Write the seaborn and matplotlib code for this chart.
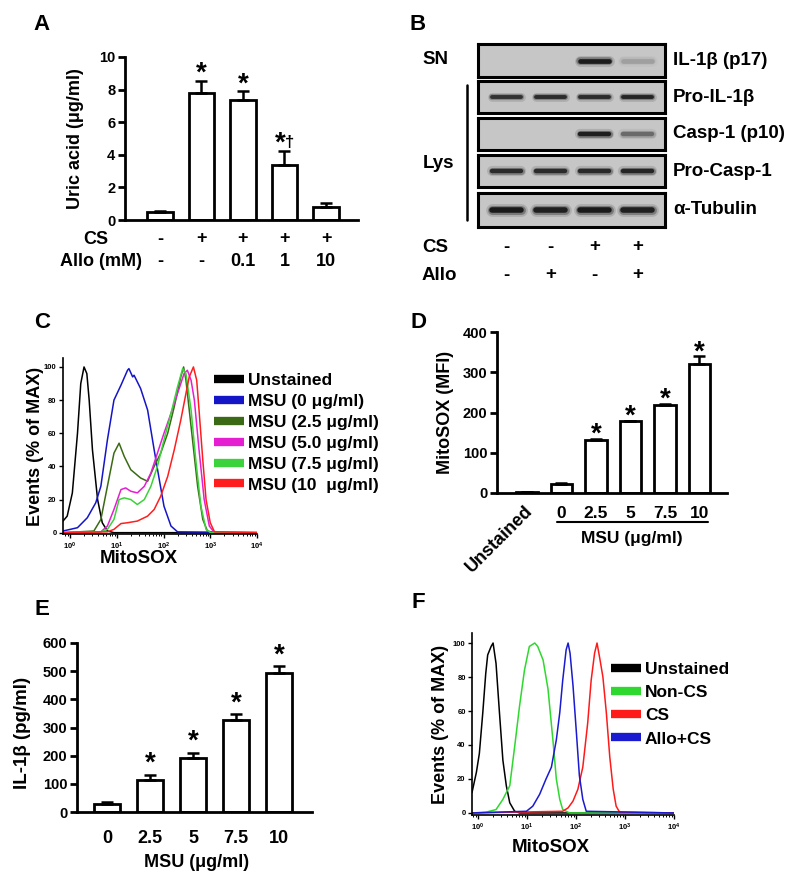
import numpy as np
import pandas as pd
import matplotlib
matplotlib.use("Agg")
import matplotlib.pyplot as plt
import seaborn as sns
from matplotlib.lines import Line2D
from matplotlib.transforms import blended_transform_factory as blend

# ---------------- data ----------------
# Panel A: uric acid
a_groups = ["Ctrl", "CS", "CS+Allo 0.1", "CS+Allo 1", "CS+Allo 10"]
a_cs = ["-", "+", "+", "+", "+"]
a_allo = ["-", "-", "0.1", "1", "10"]
a_uric = [0.47, 7.8, 7.35, 3.35, 0.82]
a_sem = [0.1, 0.75, 0.55, 0.9, 0.2]
a_marks = ["", "*", "*", "*†", ""]

# Panel B: western blot band densities (0..1) per lane
b_proteins = ["IL-1β (p17)", "Pro-IL-1β", "Casp-1 (p10)", "Pro-Casp-1", "α-Tubulin"]
b_cs = ["-", "-", "+", "+"]
b_allo = ["-", "+", "-", "+"]
b_il1b_p17 = [0.0, 0.0, 0.92, 0.15]
b_pro_il1b = [0.75, 0.8, 0.8, 0.85]
b_casp1_p10 = [0.0, 0.0, 0.9, 0.4]
b_pro_casp1 = [0.8, 0.8, 0.82, 0.85]
b_tubulin = [0.95, 0.9, 0.95, 0.9]

# Panel C: MitoSOX histograms (x as log10 MitoSOX, y as % of max)
c_names = ["Unstained", "MSU (0 μg/ml)", "MSU (2.5 μg/ml)", "MSU (5.0 μg/ml)",
           "MSU (7.5 μg/ml)", "MSU (10  μg/ml)"]
c_unstained_x = [-0.15, -0.06, 0.05, 0.16, 0.23, 0.30, 0.36, 0.41, 0.48, 0.59, 0.69, 0.80, 0.94, 4.0]
c_unstained_y = [7, 10, 24, 60, 90, 100, 96, 80, 50, 20, 6, 1, 0, 0]
c_msu0_x = [-0.15, 0.16, 0.37, 0.55, 0.66, 0.80, 0.94, 1.09, 1.23, 1.26, 1.34, 1.37, 1.51, 1.66, 1.80, 1.91, 2.01, 2.16, 2.30, 4.0]
c_msu0_y = [1, 3, 9, 18, 28, 56, 80, 89, 98, 99, 94, 95, 87, 74, 50, 32, 16, 4, 0.5, 0]
c_msu25_x = [-0.15, 0.51, 0.66, 0.80, 0.94, 1.05, 1.16, 1.30, 1.51, 1.66, 1.80, 1.94, 2.09, 2.23, 2.37, 2.43, 2.48, 2.59, 2.73, 2.84, 2.94, 3.09, 4.0]
c_msu25_y = [0, 1, 8, 28, 48, 54, 46, 38, 33, 31, 40, 48, 60, 76, 94, 100, 92, 64, 28, 8, 1, 0, 0]
c_msu50_x = [-0.15, 0.66, 0.80, 0.94, 1.09, 1.19, 1.30, 1.44, 1.59, 1.73, 1.87, 2.01, 2.16, 2.30, 2.44, 2.51, 2.59, 2.66, 2.76, 2.87, 2.98, 3.09, 4.0]
c_msu50_y = [0, 0.5, 4, 14, 26, 27, 25, 24, 28, 36, 48, 60, 72, 84, 96, 98, 92, 80, 50, 20, 4, 0, 0]
c_msu75_x = [-0.15, 0.66, 0.80, 0.94, 1.05, 1.16, 1.30, 1.44, 1.59, 1.73, 1.87, 2.01, 2.16, 2.30, 2.41, 2.48, 2.59, 2.69, 2.80, 2.91, 3.01, 4.0]
c_msu75_y = [0, 0.5, 2, 8, 20, 21, 20, 17, 20, 28, 40, 56, 72, 88, 99, 96, 74, 44, 16, 2, 0, 0]
c_msu10_x = [-0.15, 0.80, 0.94, 1.09, 1.23, 1.44, 1.66, 1.80, 1.94, 2.09, 2.23, 2.37, 2.48, 2.55, 2.64, 2.71, 2.76, 2.84, 2.91, 3.00, 3.09, 4.0]
c_msu10_y = [0, 0.5, 2, 5.5, 6, 7, 10, 14, 22, 34, 50, 68, 84, 94, 100, 92, 74, 44, 20, 6, 0.5, 0]
c_colors = ["#000000", "#1515c8", "#3a6b14", "#e61ed2", "#3cd23c", "#ff1e1e"]

# Panel D: MitoSOX MFI
d_groups = ["Unstained", "0", "2.5", "5", "7.5", "10"]
d_mfi = [2.5, 23, 132, 178, 219, 320]
d_sem = [0.5, 1, 3, 2, 2.5, 20]
d_marks = ["", "", "*", "*", "*", "*"]

# Panel E: IL-1beta
e_doses = ["0", "2.5", "5", "7.5", "10"]
e_il1b = [30, 113, 190, 327, 493]
e_sem = [4, 20, 21, 21, 25]
e_marks = ["", "*", "*", "*", "*"]

# Panel F: MitoSOX histograms
f_names = ["Unstained", "Non-CS", "CS", "Allo+CS"]
f_unstained_x = [-0.12, -0.03, 0.03, 0.10, 0.16, 0.20, 0.27, 0.31, 0.37, 0.44, 0.51, 0.58, 0.65, 0.75, 0.85, 4.0]
f_unstained_y = [12, 24, 35, 59, 82, 93, 98, 100, 88, 59, 31, 16, 6, 1, 0, 0]
f_noncs_x = [-0.12, 0.17, 0.37, 0.51, 0.65, 0.75, 0.85, 0.95, 1.05, 1.16, 1.22, 1.33, 1.43, 1.53, 1.60, 1.67, 1.73, 1.87, 4.0]
f_noncs_y = [0, 0.5, 2, 8, 16, 39, 63, 84, 98, 100, 98, 90, 73, 43, 20, 8, 2, 0, 0]
f_cs_x = [-0.12, 1.73, 1.84, 1.94, 2.04, 2.14, 2.24, 2.31, 2.38, 2.43, 2.48, 2.55, 2.62, 2.69, 2.76, 2.82, 2.89, 4.0]
f_cs_y = [0, 1, 3, 7, 14, 27, 53, 78, 94, 100, 92, 80, 59, 33, 14, 4, 0.5, 0]
f_allo_x = [-0.12, 0.99, 1.12, 1.26, 1.39, 1.50, 1.60, 1.67, 1.73, 1.80, 1.84, 1.88, 1.94, 2.01, 2.07, 2.14, 2.21, 4.0]
f_allo_y = [0, 1, 4, 11, 20, 27, 43, 59, 78, 96, 100, 94, 75, 47, 22, 8, 1, 0]
f_colors = ["#000000", "#2ed82e", "#ff1a1a", "#1a1ad0"]

# ---------------- style ----------------
sns.set_style("ticks", {"axes.edgecolor": "black", "text.color": "black",
                        "xtick.color": "black", "ytick.color": "black",
                        "axes.labelcolor": "black"})
plt.rcParams["font.family"] = ["Liberation Sans", "DejaVu Sans"]
plt.rcParams["font.weight"] = "bold"
plt.rcParams["axes.labelweight"] = "bold"
plt.rcParams["mathtext.fontset"] = "custom"
plt.rcParams["mathtext.rm"] = "Liberation Sans:bold"
plt.rcParams["mathtext.it"] = "Liberation Sans:bold"
plt.rcParams["mathtext.bf"] = "Liberation Sans:bold"
plt.rcParams["mathtext.default"] = "regular"

W, H = 800, 883
fig = plt.figure(figsize=(W / 100, H / 100), dpi=100)


def rect(l, t, r, b):
    return [l / W, 1 - b / H, (r - l) / W, (b - t) / H]


def fx(x):
    return x / W


def fy(y):
    return 1 - y / H


def panel_letter(x, y, s):
    fig.text(fx(x), fy(y), s, ha="center", va="baseline", fontsize=16, fontweight="bold")


def bar_panel(ax, groups, vals, sems, width):
    sns.barplot(x=groups, y=vals, color="white", edgecolor="black", linewidth=2,
                width=width, saturation=1, errorbar=None, ax=ax)
    n = len(vals)
    ax.errorbar(np.arange(n), vals, yerr=[np.zeros(n), sems], fmt="none",
                ecolor="black", elinewidth=1.8, capsize=4.5, capthick=1.8, zorder=3)
    sns.despine(ax=ax)
    for s in ["left", "bottom"]:
        ax.spines[s].set_linewidth(2)
    ax.tick_params(axis="y", direction="out", length=5, width=2, labelsize=10.5, pad=2)
    ax.tick_params(axis="x", length=0)
    ax.set_xlabel("")


def add_marks(ax, vals, sems, marks, dy):
    for i, (v, s, m) in enumerate(zip(vals, sems, marks)):
        if not m:
            continue
        top = v + s
        if len(m) == 1:
            ax.annotate(m, (i, top), xytext=(0, dy), textcoords="offset points",
                        ha="center", va="baseline", fontsize=20, fontweight="bold")
        else:
            ax.annotate(m[0], (i, top), xytext=(-3, dy), textcoords="offset points",
                        ha="center", va="baseline", fontsize=20, fontweight="bold")
            ax.annotate(m[1], (i, top), xytext=(4, dy + 3), textcoords="offset points",
                        ha="center", va="baseline", fontsize=12, fontweight="bold")


# ---------------- Panel A ----------------
axA = fig.add_axes(rect(125, 57, 358, 220))
bar_panel(axA, a_groups, a_uric, a_sem, 0.62)
axA.set_ylim(0, 10)
axA.set_yticks(range(0, 11, 2))
axA.set_xlim(-0.84, 4.77)
axA.set_xticks([])
axA.set_ylabel("Uric acid (μg/ml)", fontsize=13)
axA.yaxis.set_label_coords(-0.176, 0.5)
add_marks(axA, a_uric, a_sem, a_marks, 0)
tA = blend(axA.transData, fig.transFigure)
fig.text(fx(83), fy(239), "CS", ha="left", va="center", fontsize=13)
fig.text(fx(60), fy(262), "Allo (mM)", ha="left", va="center", fontsize=13)
for i, (c, a) in enumerate(zip(a_cs, a_allo)):
    axA.text(i, fy(239), c, transform=tA, ha="center", va="center", fontsize=13)
    axA.text(i, fy(262), a, transform=tA, ha="center", va="center", fontsize=13)
panel_letter(42, 30, "A")

# ---------------- Panel B ----------------
blot_rows = [(44, 77), (81, 113), (118, 150), (155, 187), (193, 227)]
b_bands = [b_il1b_p17, b_pro_il1b, b_casp1_p10, b_pro_casp1, b_tubulin]
band_lw = [3.4, 2.8, 3.2, 3.2, 4.0]
lane_x = np.arange(len(b_cs))
blot_axes = []
for (t, b), prot, dens, lw in zip(blot_rows, b_proteins, b_bands, band_lw):
    ax = fig.add_axes(rect(478, t, 665, b))
    ax.set_facecolor("#c6c6c6")
    ax.set_xlim(-0.66, 3.62)
    ax.set_ylim(0, 1)
    ax.set_xticks([])
    ax.set_yticks([])
    for sp in ax.spines.values():
        sp.set_visible(True)
        sp.set_linewidth(2.2)
        sp.set_color("black")
    for x, d in zip(lane_x, dens):
        if d <= 0:
            continue
        for scale, al in [(2.3, 0.15), (1.6, 0.35), (1.0, 0.95)]:
            ax.plot([x - 0.33, x + 0.33], [0.5, 0.5], color="#101010", lw=lw * scale,
                    alpha=al * d, solid_capstyle="round")
    fig.text(fx(673), fy((t + b) / 2), prot, ha="left", va="center", fontsize=13.5)
    blot_axes.append(ax)

fig.text(fx(422), fy(60), "SN", ha="left", va="center", fontsize=13.5)
fig.text(fx(423), fy(163), "Lys", ha="left", va="center", fontsize=13.5)
fig.add_artist(Line2D([fx(467), fx(467)], [fy(85), fy(220)], color="black", lw=1.8,
                      transform=fig.transFigure))
fig.text(fx(422), fy(247), "CS", ha="left", va="center", fontsize=13.5)
fig.text(fx(422), fy(275), "Allo", ha="left", va="center", fontsize=13.5)
tB = blend(blot_axes[-1].transData, fig.transFigure)
for i, (c, a) in enumerate(zip(b_cs, b_allo)):
    blot_axes[-1].text(i, fy(247), c, transform=tB, ha="center", va="center", fontsize=13.5)
    blot_axes[-1].text(i, fy(275), a, transform=tB, ha="center", va="center", fontsize=13.5)
panel_letter(418, 30, "B")


# ---------------- histogram helper ----------------
def hist_panel(ax, names, xs, ys, colors, xlim_lo, ylim, legend_anchor, spacing):
    df = pd.concat([pd.DataFrame({"MitoSOX": np.power(10.0, np.array(lx)),
                                  "pct": y, "sample": n})
                    for n, lx, y in zip(names, xs, ys)], ignore_index=True)
    sns.lineplot(data=df, x="MitoSOX", y="pct", hue="sample", hue_order=names,
                 palette=dict(zip(names, colors)), sort=False, estimator=None,
                 lw=1.1, legend=False, ax=ax)
    ax.set_xscale("log")
    ax.set_xlim(10 ** xlim_lo, 10 ** 4)
    ax.set_ylim(*ylim)
    ax.set_yticks(range(0, 101, 20))
    sns.despine(ax=ax)
    for s in ["left", "bottom"]:
        ax.spines[s].set_linewidth(1.2)
    ax.tick_params(axis="both", which="major", length=3, width=1, labelsize=5.5, pad=1.5)
    ax.tick_params(axis="x", which="minor", length=1.5, width=0.7)
    ax.set_xlabel("MitoSOX", fontsize=13.5)
    ax.set_ylabel("Events (% of MAX)", fontsize=13)
    ax.xaxis.label.set_va("center")
    handles = [Line2D([0], [0], color=c, lw=6, solid_capstyle="butt") for c in colors]
    ax.legend(handles, names, loc="upper left", bbox_to_anchor=legend_anchor,
              bbox_transform=fig.transFigure, frameon=False, borderpad=0,
              borderaxespad=0, handlelength=1.75, handletextpad=0.2,
              labelspacing=spacing, prop={"size": 12.5, "weight": "bold"})


# ---------------- Panel C ----------------
axC = fig.add_axes(rect(63, 358, 257, 534))
hist_panel(axC, c_names,
           [c_unstained_x, c_msu0_x, c_msu25_x, c_msu50_x, c_msu75_x, c_msu10_x],
           [c_unstained_y, c_msu0_y, c_msu25_y, c_msu50_y, c_msu75_y, c_msu10_y],
           c_colors, -0.15, (-0.8, 105.4), (fx(214), fy(373)), 0.33)
axC.yaxis.set_label_coords(-0.098, 0.5)
axC.xaxis.set_label_coords(0.39, -0.14)
panel_letter(42, 328, "C")

# ---------------- Panel D ----------------
axD = fig.add_axes(rect(497, 332, 727, 493))
bar_panel(axD, d_groups, d_mfi, d_sem, 0.62)
axD.set_ylim(0, 400)
axD.set_yticks(range(0, 401, 100))
axD.set_xlim(-0.87, 5.8)
axD.set_xticks(range(len(d_groups)))
axD.set_xticklabels([""] + d_groups[1:])
axD.tick_params(axis="x", pad=9, labelsize=12.5)
axD.set_ylabel("MitoSOX (MFI)", fontsize=13)
axD.yaxis.set_label_coords(-0.187, 0.5)
add_marks(axD, d_mfi, d_sem, d_marks, -2.2)
tD = blend(axD.transData, fig.transFigure)
axD.text(0.1, fy(508), d_groups[0], transform=tD, rotation=45, ha="right", va="center",
         rotation_mode="anchor", fontsize=13)
axD.plot([0.87, 5.25], [fy(522), fy(522)], transform=tD, color="black", lw=1.5, clip_on=False)
axD.text(3.05, fy(538), "MSU (μg/ml)", transform=tD, ha="center", va="center", fontsize=12.5)
panel_letter(418, 328, "D")

# ---------------- Panel E ----------------
axE = fig.add_axes(rect(77, 643, 312, 812))
bar_panel(axE, e_doses, e_il1b, e_sem, 0.6)
axE.set_ylim(0, 600)
axE.set_yticks(range(0, 601, 100))
axE.set_xlim(-0.7, 4.77)
axE.tick_params(axis="x", pad=13, labelsize=13)
axE.set_xlabel("MSU (μg/ml)", fontsize=13)
axE.xaxis.set_label_coords(0.51, -0.3)
axE.xaxis.label.set_va("center")
axE.set_ylabel("IL-1β (pg/ml)", fontsize=13.5)
axE.yaxis.set_label_coords(-0.196, 0.47)
add_marks(axE, e_il1b, e_sem, e_marks, 2.7)
panel_letter(42, 615, "E")

# ---------------- Panel F ----------------
axF = fig.add_axes(rect(472, 633, 674, 815))
hist_panel(axF, f_names,
           [f_unstained_x, f_noncs_x, f_cs_x, f_allo_x],
           [f_unstained_y, f_noncs_y, f_cs_y, f_allo_y],
           f_colors, -0.12, (-1.2, 105.9), (fx(611), fy(662)), 0.46)
axF.yaxis.set_label_coords(-0.114, 0.5)
axF.xaxis.set_label_coords(0.39, -0.18)
panel_letter(418, 608, "F")

fig.savefig("out.png", dpi=100)
